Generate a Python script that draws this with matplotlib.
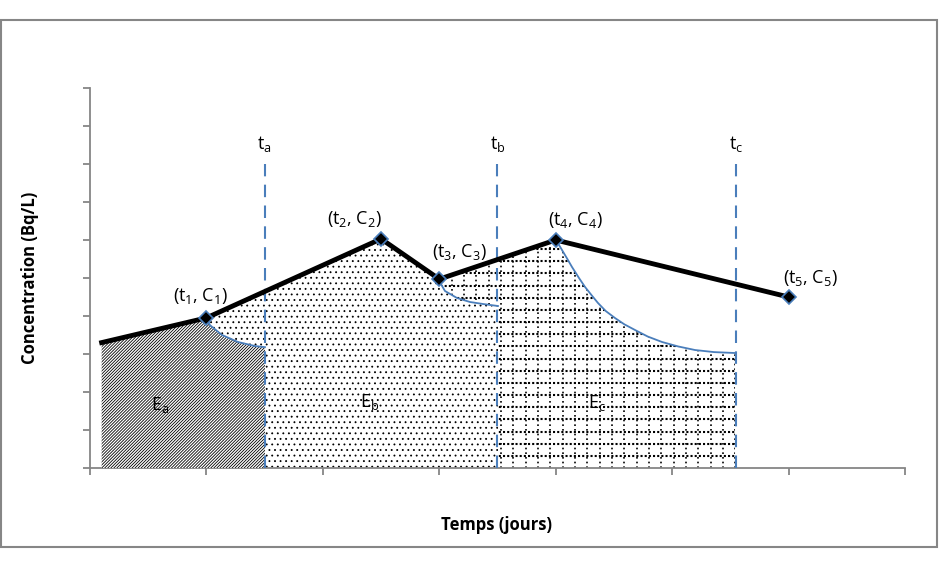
import numpy as np
import matplotlib
matplotlib.use('Agg')
from matplotlib import pyplot as plt
from matplotlib.patches import Rectangle, Polygon

plt.rcParams['font.family'] = ['Open Sans', 'DejaVu Sans']
plt.rcParams['mathtext.default'] = 'regular'
plt.rcParams['hatch.linewidth'] = 0.6

# concentration profile
t_line = [0.1, 1.0, 2.5, 3.0, 4.0, 6.0]
c_line = [3.3, 3.95, 6.03, 4.97, 6.0, 4.5]
point_labels = ['(t$_1$, C$_1$)', '(t$_2$, C$_2$)', '(t$_3$, C$_3$)',
                '(t$_4$, C$_4$)', '(t$_5$, C$_5$)']

# sampling times
t_marks = [1.5, 3.5, 5.55]
t_mark_labels = ['t$_a$', 't$_b$', 't$_c$']

# decay curves
decay1_t = [1.0, 1.03, 1.134, 1.271, 1.417, 1.503]
decay1_c = [3.95, 3.76, 3.5, 3.316, 3.21, 3.18]
decay3_t = [2.989, 3.049, 3.152, 3.264, 3.375, 3.504]
decay3_c = [4.97, 4.658, 4.474, 4.368, 4.316, 4.263]
decay4_t = [4.0, 4.03, 4.054, 4.1, 4.14, 4.2, 4.252, 4.31, 4.363, 4.43,
            4.509, 4.59, 4.681, 4.79, 4.913, 5.05, 5.196, 5.36, 5.54]
decay4_c = [6.0, 5.86, 5.737, 5.5, 5.289, 5.0, 4.763, 4.54, 4.342, 4.13,
            3.947, 3.78, 3.632, 3.46, 3.316, 3.2, 3.105, 3.05, 3.026]

area_labels = ['E$_a$', 'E$_b$', 'E$_c$']
area_pos_t = [0.6, 2.4, 4.35]
area_pos_c = [1.65, 1.75, 1.7]

blue = '#4a7ebb'

fig = plt.figure(figsize=(9.39, 5.64), dpi=100)
fig.patches.append(Rectangle((1 / 939, 17 / 564), 936 / 939, 527 / 564,
                             transform=fig.transFigure, fill=False,
                             edgecolor='#868686', linewidth=1.5))
ax = fig.add_axes([90 / 939, 96 / 564, 815 / 939, 380 / 564])
ax.set_xlim(0, 7)
ax.set_ylim(0, 10)


def region(t_pts, c_pts):
    verts = [(t_pts[0], 0)] + list(zip(t_pts, c_pts)) + [(t_pts[-1], 0)]
    return verts


# Ec: from t3 along the line to t4, then decay curve to tc
ec = region([t_line[3]] + decay4_t, [c_line[3]] + decay4_c)
poly_c = Polygon(ec, closed=True, facecolor='white', edgecolor='none', zorder=1)
ax.add_patch(poly_c)
for yy in np.arange(0.32, 7, 0.32):
    ln, = ax.plot([2.9, 5.6], [yy, yy], color='black', lw=1.5,
                  linestyle=(0, (1, 1)), zorder=1.5)
    ln.set_clip_path(poly_c)
for xx in np.arange(3.0, 5.6, 0.106):
    ln, = ax.plot([xx, xx], [0, 7], color='black', lw=1.2,
                  linestyle=(0, (1, 1.8)), zorder=1.5)
    ln.set_clip_path(poly_c)

# Eb: from t1 along the line to t3, then decay curve to tb
eb = region(t_line[1:3] + decay3_t, c_line[1:3] + decay3_c)
ax.add_patch(Polygon(eb, closed=True, facecolor='white', edgecolor='black',
                     linewidth=0, hatch='...', zorder=2))

# Ea: from start along the line to t1, then decay curve to ta
ea = region(t_line[:1] + decay1_t, c_line[:1] + decay1_c)
ax.add_patch(Polygon(ea, closed=True, facecolor='white', edgecolor='black',
                     linewidth=0, hatch='/' * 11, zorder=3))

for lab, x, y in zip(area_labels, area_pos_t, area_pos_c):
    ax.text(x, y, lab, fontsize=13, ha='center', va='center', zorder=6)

# decay curves
for tt, cc in [(decay1_t, decay1_c), (decay3_t, decay3_c), (decay4_t, decay4_c)]:
    ax.plot(tt, cc, color=blue, lw=1.3, zorder=4)

# sampling lines
for tm, lab in zip(t_marks, t_mark_labels):
    ax.plot([tm, tm], [0, 8], color=blue, lw=1.5, linestyle=(0, (6, 4)), zorder=4)
    ax.text(tm, 8.25, lab, fontsize=13, ha='center', va='bottom')

# concentration line
ax.plot(t_line, c_line, color='black', lw=3.5, zorder=5)
ax.plot(t_line[1:], c_line[1:], linestyle='none', marker='D', markersize=7,
        markerfacecolor='black', markeredgecolor=blue, markeredgewidth=1.2,
        zorder=6)

label_offsets = [(-0.05, 0.3), (-0.23, 0.25), (0.17, 0.45), (0.17, 0.25), (0.19, 0.25)]
for (t, c), lab, (dx, dy) in zip(zip(t_line[1:], c_line[1:]), point_labels, label_offsets):
    ax.text(t + dx, c + dy, lab, fontsize=13, ha='center', va='bottom')

for s in ['top', 'right']:
    ax.spines[s].set_visible(False)
for s in ['left', 'bottom']:
    ax.spines[s].set_color('#868686')
    ax.spines[s].set_linewidth(1.3)
ax.set_xticks(range(8))
ax.set_yticks(range(11))
ax.tick_params(colors='#868686', length=5, width=1.3, labelbottom=False,
               labelleft=False)

fig.text(30 / 939, 1 - 278 / 564, 'Concentration (Bq/L)', rotation=90,
         fontsize=12, fontweight='bold', ha='center', va='center')
fig.text(497 / 939, 1 - 525 / 564, 'Temps (jours)', fontsize=12,
         fontweight='bold', ha='center', va='center')

fig.savefig('out.png', dpi=100)
